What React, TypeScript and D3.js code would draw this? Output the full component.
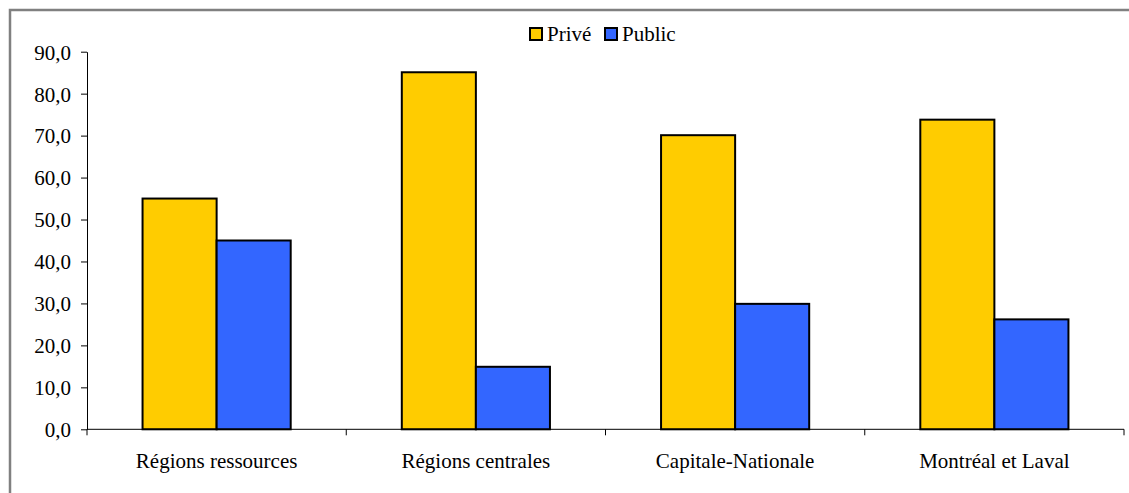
import React, { useEffect, useRef } from 'react';
import * as d3 from 'd3';

const categories = ['Régions ressources', 'Régions centrales', 'Capitale-Nationale', 'Montréal et Laval'];
const series = ['Privé', 'Public'];
const prive = [55.0, 85.1, 70.1, 73.8];
const publicVals = [45.0, 14.9, 29.9, 26.2];
const colors = ['#FFCC00', '#3366FF'];
const yTicks = [0, 10, 20, 30, 40, 50, 60, 70, 80, 90];

const App: React.FC = () => {
  const ref = useRef<SVGSVGElement>(null);

  useEffect(() => {
    if (!ref.current) return;
    const svg = d3.select(ref.current);
    svg.selectAll('*').remove();

    const width = 1129;
    const height = 493;
    const font = '"Liberation Serif", "Times New Roman", serif';
    const fontSize = '21px';
    const left = 87;
    const right = 1124;
    const top = 51.7;
    const bottom = 429.3;

    // Outer frame (runs off the right and bottom edge)
    svg.append('rect')
      .attr('x', 10)
      .attr('y', 10)
      .attr('width', 1140)
      .attr('height', 500)
      .attr('fill', 'white')
      .attr('stroke', '#808080')
      .attr('stroke-width', 2.5);

    const x0 = d3.scaleBand<string>()
      .domain(categories)
      .range([left, right])
      .paddingInner(0)
      .paddingOuter(0);

    const x1 = d3.scaleBand<string>()
      .domain(series)
      .range([0, x0.bandwidth()])
      .paddingInner(0)
      .paddingOuter(0.75);

    const y = d3.scaleLinear().domain([0, 90]).range([bottom, top]);

    // Y axis
    const yAxis = svg.append('g')
      .attr('transform', `translate(${left},0)`)
      .call(d3.axisLeft(y).tickValues(yTicks).tickSize(6).tickSizeOuter(0)
        .tickFormat((d) => (d as number).toFixed(1).replace('.', ',')));
    yAxis.attr('font-family', null).attr('font-size', null);
    yAxis.select('.domain').attr('stroke', '#000').attr('stroke-width', 1);
    yAxis.selectAll('.tick line').attr('stroke', '#000');
    yAxis.selectAll('.tick text')
      .attr('x', -16)
      .attr('dy', '0.35em')
      .attr('fill', '#000')
      .attr('font-family', font)
      .attr('font-size', fontSize);

    // Bars
    const data = categories.map((c, i) => ({ c, vals: [prive[i], publicVals[i]] }));
    const groups = svg.append('g')
      .selectAll('g')
      .data(data)
      .join('g')
      .attr('transform', (d) => `translate(${x0(d.c)},0)`);

    groups.selectAll('rect')
      .data((d) => d.vals.map((v, j) => ({ s: series[j], v, j })))
      .join('rect')
      .attr('x', (d) => x1(d.s)!)
      .attr('y', (d) => y(d.v))
      .attr('width', x1.bandwidth())
      .attr('height', (d) => y(0) - y(d.v))
      .attr('fill', (d) => colors[d.j])
      .attr('stroke', '#000')
      .attr('stroke-width', 2);

    // X axis
    const xAxisG = svg.append('g').attr('transform', `translate(0,${bottom})`);
    xAxisG.append('line')
      .attr('x1', left).attr('x2', right)
      .attr('y1', 0).attr('y2', 0)
      .attr('stroke', '#000');
    const boundaries = [...categories.map((c) => x0(c)!), right];
    xAxisG.selectAll('line.tk')
      .data(boundaries)
      .join('line')
      .attr('class', 'tk')
      .attr('x1', (d) => d).attr('x2', (d) => d)
      .attr('y1', 0).attr('y2', 6)
      .attr('stroke', '#000');
    xAxisG.selectAll('text')
      .data(categories)
      .join('text')
      .attr('x', (d) => x0(d)! + x0.bandwidth() / 2)
      .attr('y', 39)
      .attr('text-anchor', 'middle')
      .attr('fill', '#000')
      .attr('font-family', font)
      .attr('font-size', fontSize)
      .text((d) => d);

    // Legend
    const legend = svg.append('g').attr('transform', 'translate(529,27)');
    const offsets = [0, 75];
    series.forEach((s, i) => {
      const g = legend.append('g').attr('transform', `translate(${offsets[i]},0)`);
      g.append('rect')
        .attr('x', 1).attr('y', 1)
        .attr('width', 12).attr('height', 12)
        .attr('fill', colors[i])
        .attr('stroke', '#000')
        .attr('stroke-width', 2);
      g.append('text')
        .attr('x', 18)
        .attr('y', 14)
        .attr('fill', '#000')
        .attr('font-family', font)
        .attr('font-size', fontSize)
        .text(s);
    });

    svg.attr('width', width).attr('height', height);
  }, []);

  return (
    <div style={{ position: 'absolute', left: 0, top: 0 }}>
      <svg ref={ref} style={{ display: 'block' }}></svg>
    </div>
  );
};

export default App;
